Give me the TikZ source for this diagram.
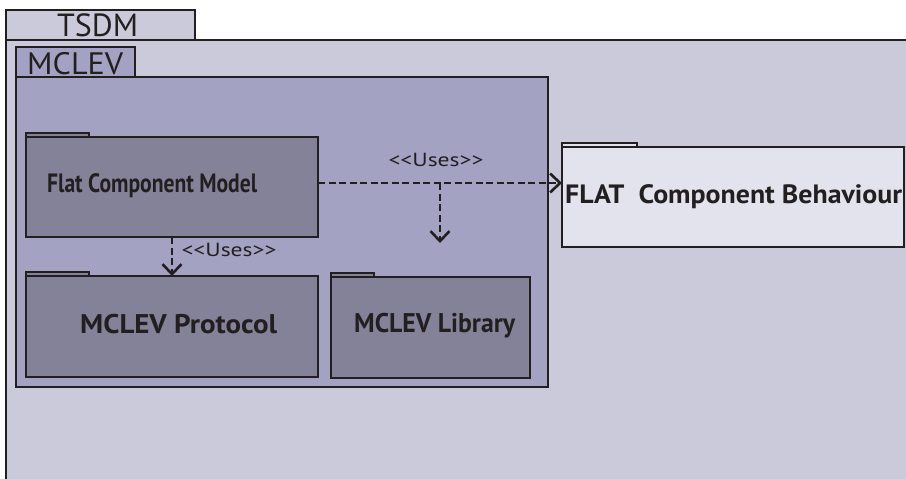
\documentclass[tikz,border=0pt]{standalone}
\usepackage{fontspec}
\usepackage{graphicx}
\setmainfont{PT Sans}
\usetikzlibrary{arrows.meta}
\definecolor{ink}{HTML}{231F20}
\definecolor{tsdmfill}{HTML}{CBCADB}
\definecolor{mclevfill}{HTML}{A3A2C3}
\definecolor{innerfill}{HTML}{838299}
\definecolor{flatfill}{HTML}{E3E3ED}
\newsavebox\myfitbox
\newcommand{\myfit}[2]{\sbox\myfitbox{#2}\pgfmathsetmacro\myratio{#1/\the\wd\myfitbox}\scalebox{\myratio}[1]{\usebox\myfitbox}}
\tikzset{
  frame/.style={draw=ink, line width=2.9pt},
  pkg/.style={frame, anchor=north west, inner sep=0pt, outer sep=0pt, fill=#1},
  lbl/.style={inner sep=0pt, text=ink, anchor=base west},
  uses/.style={draw=ink, line width=2.6pt, dash pattern=on 7pt off 3.5pt,
    -{Straight Barb[length=10pt,width=19pt]}},
}
\begin{document}
\begin{tikzpicture}[x=1pt,y=-1pt]
\useasboundingbox (0,0) rectangle (906,479);
% TSDM frame
\fill[tsdmfill] (6,40) rectangle (912,485);
\node[pkg=tsdmfill, minimum width=189pt, minimum height=30pt] (tsdmtab) at (6,10) {};
\draw[frame] (912,40) -- (6,40) -- (6,485);
\node[lbl, font=\fontsize{32}{32}\selectfont] (tsdmtxt) at (57,36) {\myfit{81}{TSDM}};
% MCLEV frame
\node[pkg=mclevfill, minimum width=532pt, minimum height=310pt] (mclev) at (16,77) {};
\node[pkg=mclevfill, minimum width=119pt, minimum height=30pt] (mclevtab) at (16,47) {};
\node[lbl, font=\fontsize{31}{31}\selectfont] (mclevtxt) at (27,74) {\myfit{96}{MCLEV}};
% Flat Component Model
\node[pkg=innerfill, minimum width=63pt, minimum height=4pt] (fcmtab) at (26,133) {};
\node[pkg=innerfill, minimum width=292pt, minimum height=100pt] (fcm) at (26,137) {};
\node[lbl, font=\bfseries\fontsize{26.5}{26.5}\selectfont] (fcmtxt) at (47,192) {\myfit{210}{Flat Component Model}};
% MCLEV Protocol
\node[pkg=innerfill, minimum width=63pt, minimum height=4pt] (prottab) at (26,272) {};
\node[pkg=innerfill, minimum width=292pt, minimum height=101pt] (prot) at (26,276) {};
\node[lbl, font=\bfseries\fontsize{27}{27}\selectfont] (prottxt) at (80,333) {\myfit{197}{MCLEV Protocol}};
% MCLEV Library
\node[pkg=innerfill, minimum width=43pt, minimum height=4pt] (libtab) at (331,273) {};
\node[pkg=innerfill, minimum width=199pt, minimum height=101pt] (lib) at (331,277) {};
\node[lbl, font=\bfseries\fontsize{27}{27}\selectfont] (libtxt) at (354,332) {\myfit{161}{MCLEV Library}};
% FLAT Component Behaviour
\node[pkg=flatfill, minimum width=75pt, minimum height=4pt] (fcbtab) at (562,143) {};
\node[pkg=flatfill, minimum width=342pt, minimum height=100pt] (fcb) at (562,147) {};
\node[lbl, font=\bfseries\fontsize{26.5}{26.5}\selectfont] (fcbtxt) at (565,203) {\myfit{337}{FLAT\ \ Component Behaviour}};
% connectors
\coordinate (j) at (440,183);
\coordinate (k) at (440,243);
\draw[uses] (fcm.east |- j) -- (fcb.west |- j);
\draw[uses] (j) -- (k);
\draw[uses] (fcm.south) -- (prot.north);
\node[inner sep=0pt, text=ink, font=\fontsize{19}{19}\selectfont] (u1) at (436,160) {\myfit{95}{<{}<Uses>{}>}};
\node[inner sep=0pt, text=ink, font=\fontsize{19}{19}\selectfont] (u2) at (229,250) {\myfit{95}{<{}<Uses>{}>}};
\end{tikzpicture}
\end{document}
